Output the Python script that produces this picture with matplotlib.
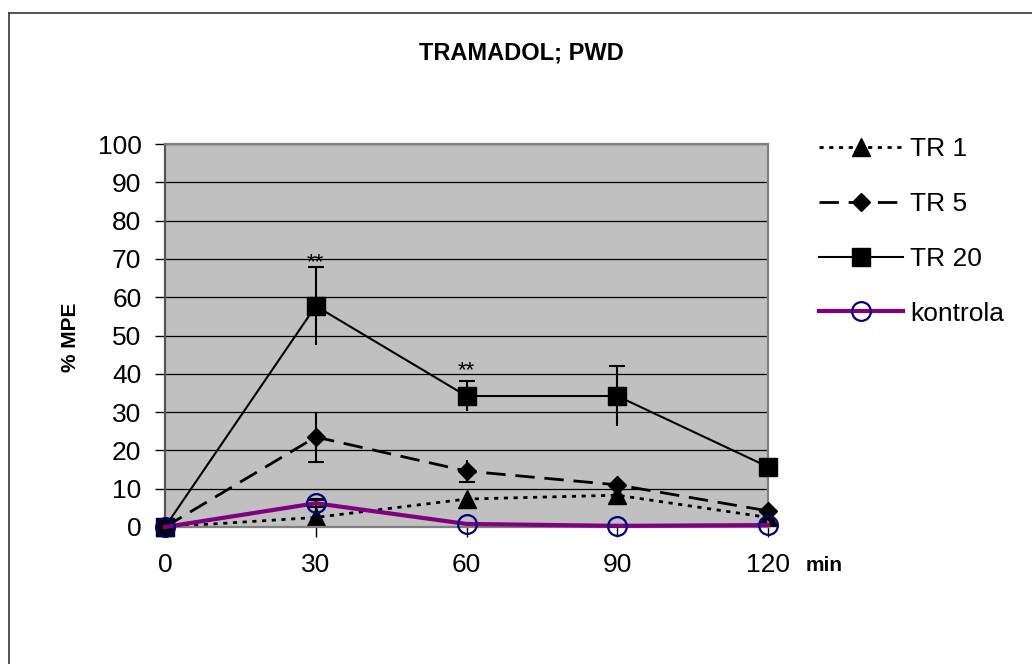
import numpy as np
import matplotlib
matplotlib.use('Agg')
import matplotlib.pyplot as plt
from matplotlib.lines import Line2D

plt.rcParams['font.family'] = ['Liberation Sans', 'DejaVu Sans']
plt.rcParams['lines.scale_dashes'] = False

# data
czas = [0, 30, 60, 90, 120]
tr1 = [0, 2.5, 7.3, 8.3, 2.5]
tr5 = [0, 23.5, 14.6, 11.0, 4.2]
tr20 = [0, 57.7, 34.2, 34.2, 15.7]
kontrola = [0, 6.2, 0.8, 0.3, 0.5]

tr1_err = [0, 4.5, 0, 0, 0]
tr5_err = [0, 6.5, 2.9, 0, 0]
tr20_err = [0, 10.2, 3.9, 7.8, 0]
kontrola_err = [0, 1.0, 0, 0.3, 0]

# ** nad punktami TR 20
gwiazdki_x = [30, 60]
gwiazdki_y = [69.7, 41.5]

fig = plt.figure(figsize=(10.32, 6.64), dpi=100)
ax = fig.add_axes([165/1032, 1-527/664, (768-165)/1032, (527-144)/664])
ax.set_facecolor('#C0C0C0')

# ramka wykresu (tylko lewa i gorna krawedz widoczna)
fig.add_artist(Line2D([9/1032, 9/1032], [0, 1-13/664], color='#333333', lw=1.2))
fig.add_artist(Line2D([9/1032, 1], [1-13/664, 1-13/664], color='#333333', lw=1.2))


def slupki(x, y, err, cap_gora=True, cap_dol=True, z=3):
    x = np.array(x); y = np.array(y); err = np.array(err)
    m = err > 0
    eb = ax.errorbar(x[m], y[m], yerr=err[m], fmt='none', ecolor='black',
                     elinewidth=1.5, capsize=5.8, capthick=1.5, zorder=z)
    caps = eb[1]
    if not cap_dol:
        caps[0].set_visible(False)
    if not cap_gora:
        caps[1].set_visible(False)
    for c in caps:
        c.set_clip_on(False)


slupki(czas, tr1, tr1_err, cap_gora=True, cap_dol=False, z=2)
slupki(czas, tr5, tr5_err, cap_gora=False, cap_dol=True, z=3)
slupki(czas, tr20, tr20_err, cap_gora=True, cap_dol=False, z=4)
slupki(czas, kontrola, kontrola_err, cap_gora=True, cap_dol=True, z=5)

l1, = ax.plot(czas, tr1, color='black', lw=2, dashes=(3, 4), marker='^',
              markersize=13, label='TR 1', zorder=2.5, clip_on=False)
l2, = ax.plot(czas, tr5, color='black', lw=2, dashes=(14, 7), marker='D',
              markersize=9.5, label='TR 5', zorder=3.5, clip_on=False)
l3, = ax.plot(czas, tr20, color='black', lw=1.5, marker='s',
              markersize=12.5, label='TR 20', zorder=4.5, clip_on=False)
l4, = ax.plot(czas, kontrola, color='#800080', lw=3, marker='o',
              markersize=13.5, markerfacecolor='none', markeredgecolor='#000080',
              markeredgewidth=1.6, label='kontrola', zorder=5.5, clip_on=False)

for gx, gy in zip(gwiazdki_x, gwiazdki_y):
    ax.annotate('**', (gx, gy), xytext=(0, -2), textcoords='offset points',
                ha='center', va='center', fontsize=16)

ax.set_xlim(0, 120)
ax.set_ylim(0, 100)
ax.set_xticks(czas)
ax.set_yticks(np.arange(0, 101, 10))
ax.yaxis.grid(True, color='black', lw=0.9)
ax.set_axisbelow(True)
ax.tick_params(axis='both', labelsize=19, length=7, width=1, direction='out')
ax.tick_params(axis='y', pad=10)
ax.tick_params(axis='x', pad=12)
for s in ax.spines.values():
    s.set_color('#808080')
    s.set_linewidth(1.6)
ax.spines['left'].set_color('#555555')

fig.text(521/1032, 1-53/664, 'TRAMADOL; PWD', ha='center', va='center',
         fontsize=17, fontweight='bold')
fig.text(70/1032, 1-337/664, '% MPE', ha='center', va='center', rotation=90,
         fontsize=15, fontweight='bold')
fig.text(824/1032, 1-571/664, 'min', ha='center', va='baseline',
         fontsize=15, fontweight='bold')

fig.legend(handles=[l1, l2, l3, l4], loc='upper left',
           bbox_to_anchor=(819/1032, 1-137/664), frameon=False, fontsize=19,
           handlelength=3.2, handletextpad=0.25, labelspacing=1.17,
           borderpad=0, borderaxespad=0)

fig.savefig('out.png', dpi=100)
